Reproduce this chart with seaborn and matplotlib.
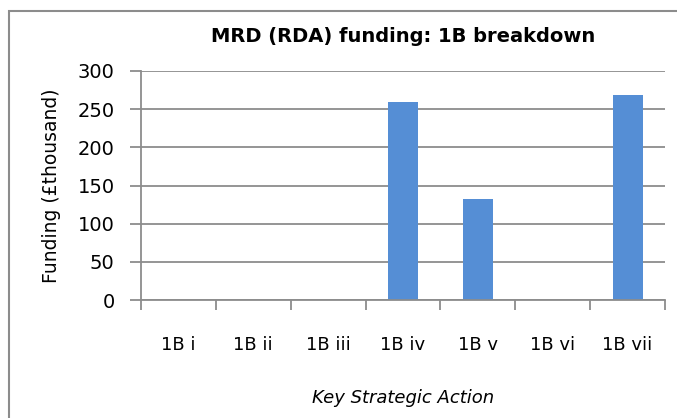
import matplotlib
matplotlib.use("Agg")
import matplotlib.pyplot as plt
import seaborn as sns
import pandas as pd
from matplotlib.patches import Rectangle

categories = ["1B i", "1B ii", "1B iii", "1B iv", "1B v", "1B vi", "1B vii"]
funding = [0, 0, 0, 260, 132, 0, 268]
yticks = [0, 50, 100, 150, 200, 250, 300]

sns.set_theme(style="white")
plt.rcParams["font.family"] = ["DejaVu Sans"]
plt.rcParams["text.color"] = "black"
plt.rcParams["axes.labelcolor"] = "black"

df = pd.DataFrame({"cat": categories, "val": funding})

W, H = 677, 418
fig = plt.figure(figsize=(W / 100, H / 100), dpi=100)
ax = fig.add_axes([141 / W, (H - 300) / H, (665 - 141) / W, (300 - 71) / H])

sns.barplot(data=df, x="cat", y="val", color="#558ED5", width=0.4,
            saturation=1, ax=ax, zorder=3, linewidth=0, edgecolor="none")

ax.set_ylim(0, 300)
ax.set_yticks(yticks)
ax.set_xlim(-0.5, len(categories) - 0.5)
ax.yaxis.grid(True, color="#8C8C8C", linewidth=1.3, zorder=0)
ax.set_axisbelow(True)

for s in ["top", "right"]:
    ax.spines[s].set_visible(False)
for s in ["left", "bottom"]:
    ax.spines[s].set_color("#8C8C8C")
    ax.spines[s].set_linewidth(1.3)
    ax.spines[s].set_zorder(4)

# category boundary ticks on x
ax.set_xticks([i - 0.5 for i in range(len(categories) + 1)], minor=False)
ax.set_xticklabels([])
ax.set_xticks(range(len(categories)), minor=True)
ax.set_xticklabels(categories, minor=True, fontsize=13)
ax.tick_params(axis="x", which="major", direction="out", length=7,
               width=1.3, color="#8C8C8C", bottom=True)
ax.tick_params(axis="x", which="minor", length=0, pad=26, labelcolor="black")
ax.tick_params(axis="y", direction="out", length=8, width=1.3,
               color="#8C8C8C", left=True, labelsize=14, pad=11,
               labelcolor="black")

ax.set_xlabel("Key Strategic Action", fontsize=13, style="italic", labelpad=25,
              color="black")
ax.set_ylabel("Funding (£thousand)", fontsize=13.5, labelpad=12, color="black")
ax.set_title("MRD (RDA) funding: 1B breakdown", fontsize=14, fontweight="bold",
             pad=21, color="black")

fig.patches.append(Rectangle((9 / W, -0.1), 1.2, (H - 11) / H + 0.1,
                             transform=fig.transFigure, fill=False,
                             edgecolor="#8C8C8C", linewidth=1.5))

fig.savefig("out.png", dpi=100)
